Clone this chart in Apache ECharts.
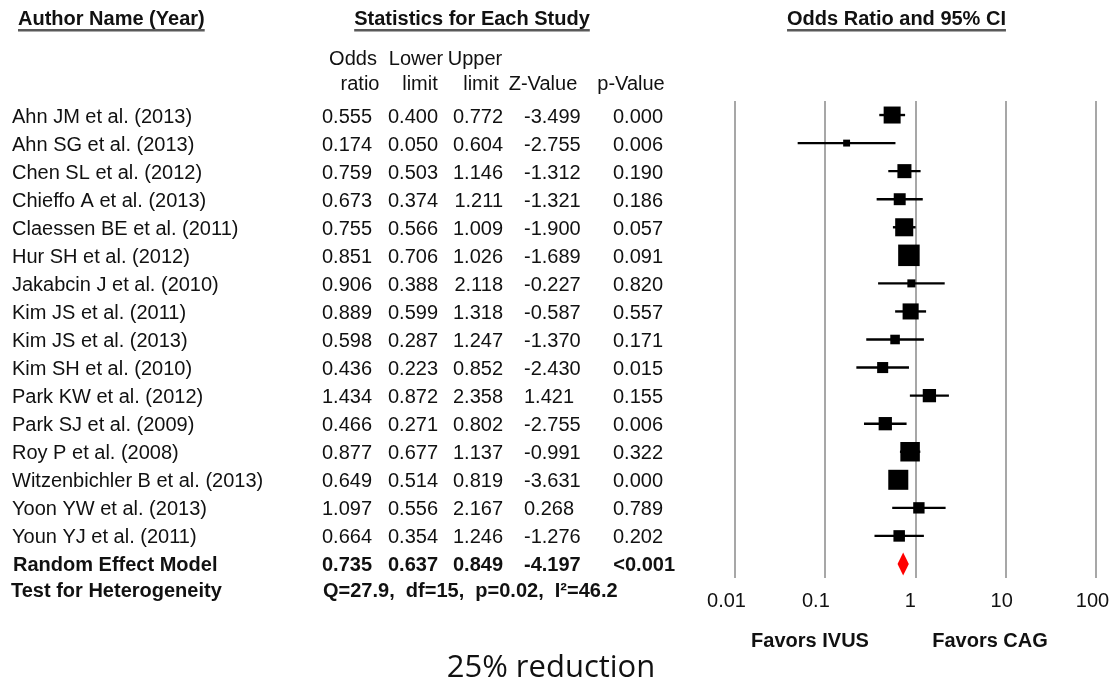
<!DOCTYPE html>
<html>
<head>
<meta charset="utf-8">
<script src="https://cdn.jsdelivr.net/npm/echarts@6/dist/echarts.min.js"></script>
<style>
html,body{margin:0;padding:0;background:#fff;}
#chart{width:1109px;height:684px;}
</style>
</head>
<body>
<div id="chart"></div>
<script>
// ---------------- DATA ----------------
const studies = [
  'Ahn JM et al. (2013)', 'Ahn SG et al. (2013)', 'Chen SL et al. (2012)', 'Chieffo A et al. (2013)',
  'Claessen BE et al. (2011)', 'Hur SH et al. (2012)', 'Jakabcin J et al. (2010)', 'Kim JS et al. (2011)',
  'Kim JS et al. (2013)', 'Kim SH et al. (2010)', 'Park KW et al. (2012)', 'Park SJ et al. (2009)',
  'Roy P et al. (2008)', 'Witzenbichler B et al. (2013)', 'Yoon YW et al. (2013)', 'Youn YJ et al. (2011)'
];
const oddsRatio  = [0.555, 0.174, 0.759, 0.673, 0.755, 0.851, 0.906, 0.889, 0.598, 0.436, 1.434, 0.466, 0.877, 0.649, 1.097, 0.664];
const lowerLimit = [0.400, 0.050, 0.503, 0.374, 0.566, 0.706, 0.388, 0.599, 0.287, 0.223, 0.872, 0.271, 0.677, 0.514, 0.556, 0.354];
const upperLimit = [0.772, 0.604, 1.146, 1.211, 1.009, 1.026, 2.118, 1.318, 1.247, 0.852, 2.358, 0.802, 1.137, 0.819, 2.167, 1.246];
const zValue     = [-3.499, -2.755, -1.312, -1.321, -1.900, -1.689, -0.227, -0.587, -1.370, -2.430, 1.421, -2.755, -0.991, -3.631, 0.268, -1.276];
const pValue     = [0.000, 0.006, 0.190, 0.186, 0.057, 0.091, 0.820, 0.557, 0.171, 0.015, 0.155, 0.006, 0.322, 0.000, 0.789, 0.202];
// relative study weights (%), estimated from the square sizes
const weights    = [8.5, 1.4, 5.8, 4.2, 9.6, 13.6, 1.9, 7.6, 2.7, 3.6, 5.2, 5.2, 11.2, 11.8, 3.8, 3.9];

const pooledLabel = 'Random Effect Model';
const pooledValues = [0.735, 0.637, 0.849, -4.197];   // OR, lower, upper, Z
const pooledP = '<0.001';
const heterogeneityLabel = 'Test for Heterogeneity';
const heterogeneityText = 'Q=27.9,  df=15,  p=0.02,  I\u00B2=46.2';

const xTicks = [0.01, 0.1, 1, 10, 100];
const titles = ['Author Name (Year)', 'Statistics for Each Study', 'Odds Ratio and 95% CI'];
const subHeadTop = ['Odds', 'Lower', 'Upper'];
const subHeadBottom = ['ratio', 'limit', 'limit', 'Z-Value', 'p-Value'];
const favorLabels = ['Favors IVUS', 'Favors CAG'];
const footnote = '25% reduction';

// ---------------- LAYOUT ----------------
const FONT = '"Liberation Sans", Arial, sans-serif';
const TXT = '#111';
const nRows = studies.length + 1;
const plotLeft = 734.5, plotWidth = 361.5, plotTop = 101, plotHeight = 477;
const tableTop = 103;
// column anchors
const colName = 12;
const colOR = 372, colLower = 438, colUpper = 503, colZ = 524, colP = 663, colPpooled = 675;
// right padding of each tick label (shifts label left by half of it)
const tickPad = [16, 18, 10, 8, 7];

function measure(str, font) {
  const c = document.createElement('canvas').getContext('2d');
  c.font = font;
  return c.measureText(str).width;
}

const chart = echarts.init(document.getElementById('chart'), null, {renderer: 'canvas'});

const rows = studies.map((s, i) => i);

function txt(x, y, text, align, bold) {
  return {
    type: 'text', x: x, y: y,
    style: {
      text: text, fill: TXT, fontSize: 20, fontFamily: FONT,
      fontWeight: bold ? 'bold' : 'normal', align: align, verticalAlign: 'middle'
    }
  };
}

const tableData = studies.map((s, i) => [0, i]);
const graphics = [];

// titles + underlines
const titleAnchors = [[18, 'left'], [472, 'center'], [896.5, 'center']];
titles.forEach((t, i) => {
  const [x, align] = titleAnchors[i];
  const w = measure(t, 'bold 20px "Liberation Sans"');
  const x0 = align === 'left' ? x : x - w / 2;
  graphics.push({type: 'text', x: x, y: 19.5, style: {text: t, fill: TXT, fontSize: 20, fontWeight: 'bold', fontFamily: FONT, align: align, verticalAlign: 'middle'}});
  graphics.push({type: 'line', shape: {x1: x0, y1: 30, x2: x0 + w, y2: 30}, style: {stroke: '#222', lineWidth: 1.3}});
  graphics.push({type: 'line', shape: {x1: x0, y1: 31.5, x2: x0 + w, y2: 31.5}, style: {stroke: '#aaa', lineWidth: 1}});
});
// sub headers
const subTopX = [353, 416, 475];
const subBotX = [360, 420, 481, 543, 631];
subHeadTop.forEach((t, i) => graphics.push({type: 'text', x: subTopX[i], y: 59, style: {text: t, fill: TXT, fontSize: 20, fontFamily: FONT, align: 'center', verticalAlign: 'middle'}}));
subHeadBottom.forEach((t, i) => graphics.push({type: 'text', x: subBotX[i], y: 84, style: {text: t, fill: TXT, fontSize: 20, fontFamily: FONT, align: 'center', verticalAlign: 'middle'}}));
// favors labels
const favorX = [810, 990];
favorLabels.forEach((t, i) => graphics.push({type: 'text', x: favorX[i], y: 641, style: {text: t, fill: TXT, fontSize: 20, fontWeight: 'bold', fontFamily: FONT, align: 'center', verticalAlign: 'middle'}}));
// footnote
graphics.push({type: 'text', x: 551, y: 668, style: {text: footnote, fill: '#111', fontSize: 31, fontFamily: '"Open Sans", "DejaVu Sans", sans-serif', fontWeight: 'normal', align: 'center', verticalAlign: 'middle'}});

const rich = {};
tickPad.forEach((p, i) => { rich['t' + i] = {fontSize: 20, color: TXT, fontFamily: FONT, padding: [0, p, 0, 0]}; });

const option = {
  animation: false,
  backgroundColor: '#fff',
  grid: [
    {left: plotLeft, top: plotTop, width: plotWidth, height: plotHeight, containLabel: false, outerBoundsMode: 'none'},
    {left: 0, top: tableTop, width: 1109, height: plotHeight, containLabel: false, outerBoundsMode: 'none'}
  ],
  xAxis: [
    {
      type: 'log', gridIndex: 0, logBase: 10, min: xTicks[0], max: xTicks[xTicks.length - 1], splitNumber: 4,
      axisLine: {show: false}, axisTick: {show: false},
      axisLabel: {show: true, fontSize: 20, color: TXT, fontFamily: FONT, margin: 13, hideOverlap: false, rich: rich,
        formatter: v => {
          const k = xTicks.findIndex(t => Math.abs(Math.log10(t) - Math.log10(v)) < 1e-6);
          return k < 0 ? '' : '{t' + k + '|' + String(xTicks[k]) + '}';
        }},
      splitLine: {show: true, lineStyle: {color: '#8a8a8a', width: 1.5}}
    },
    {type: 'value', gridIndex: 1, min: 0, max: 1109, show: false}
  ],
  yAxis: [
    {type: 'category', gridIndex: 0, inverse: true, data: rows.concat([studies.length]), show: false},
    {type: 'value', gridIndex: 1, inverse: true, min: -0.5, max: nRows - 0.5, show: false}
  ],
  graphic: graphics,
  series: [
    // confidence interval lines
    {
      type: 'custom', xAxisIndex: 0, yAxisIndex: 0, z: 2,
      data: studies.map((s, i) => [lowerLimit[i], upperLimit[i], i]),
      renderItem: (params, api) => {
        const p1 = api.coord([api.value(0), api.value(2)]);
        const p2 = api.coord([api.value(1), api.value(2)]);
        return {type: 'line', shape: {x1: p1[0], y1: p1[1], x2: p2[0], y2: p2[1]}, style: {stroke: '#000', lineWidth: 2.4}};
      }
    },
    // weighted squares
    {
      type: 'custom', xAxisIndex: 0, yAxisIndex: 0, z: 3,
      data: studies.map((s, i) => [oddsRatio[i], i, weights[i]]),
      renderItem: (params, api) => {
        const c = api.coord([api.value(0), api.value(1)]);
        const side = 5.83 * Math.sqrt(api.value(2));
        return {type: 'rect', shape: {x: c[0] - side / 2, y: c[1] - side / 2, width: side, height: side}, style: {fill: '#000'}};
      }
    },
    // pooled diamond
    {
      type: 'custom', xAxisIndex: 0, yAxisIndex: 0, z: 3,
      data: [[pooledValues[0], pooledValues[1], pooledValues[2], studies.length]],
      renderItem: (params, api) => {
        const y = api.value(3);
        const c = api.coord([api.value(0), y]);
        const l = api.coord([api.value(1), y]);
        const r = api.coord([api.value(2), y]);
        const h = 11.5;
        return {type: 'polygon', shape: {points: [[l[0], c[1]], [c[0], c[1] - h], [r[0], c[1]], [c[0], c[1] + h]]}, style: {fill: '#ff0000'}};
      }
    },
    // table text
    {
      type: 'custom', xAxisIndex: 1, yAxisIndex: 1, z: 5,
      data: tableData,
      renderItem: (params, api) => {
        const i = params.dataIndex;
        const y = api.coord([0, api.value(1)])[1];
        return {type: 'group', children: [
          txt(colName, y, studies[i], 'left', false),
          txt(colOR, y, oddsRatio[i].toFixed(3), 'right', false),
          txt(colLower, y, lowerLimit[i].toFixed(3), 'right', false),
          txt(colUpper, y, upperLimit[i].toFixed(3), 'right', false),
          txt(colZ, y, zValue[i].toFixed(3), 'left', false),
          txt(colP, y, pValue[i].toFixed(3), 'right', false)
        ]};
      }
    },
    // pooled + heterogeneity rows
    {
      type: 'custom', xAxisIndex: 1, yAxisIndex: 1, z: 5,
      data: [[0, studies.length, 0], [0, studies.length + 0.9, 1]],
      renderItem: (params, api) => {
        const y = api.coord([0, api.value(1)])[1];
        if (api.value(2) === 0) {
          return {type: 'group', children: [
            txt(colName + 1, y, pooledLabel, 'left', true),
            txt(colOR, y, pooledValues[0].toFixed(3), 'right', true),
            txt(colLower, y, pooledValues[1].toFixed(3), 'right', true),
            txt(colUpper, y, pooledValues[2].toFixed(3), 'right', true),
            txt(colZ, y, pooledValues[3].toFixed(3), 'left', true),
            txt(colPpooled, y, pooledP, 'right', true)
          ]};
        }
        return {type: 'group', children: [
          txt(colName - 1, y, heterogeneityLabel, 'left', true),
          txt(323, y, heterogeneityText, 'left', true)
        ]};
      }
    }
  ]
};
chart.setOption(option);
</script>
</body>
</html>
